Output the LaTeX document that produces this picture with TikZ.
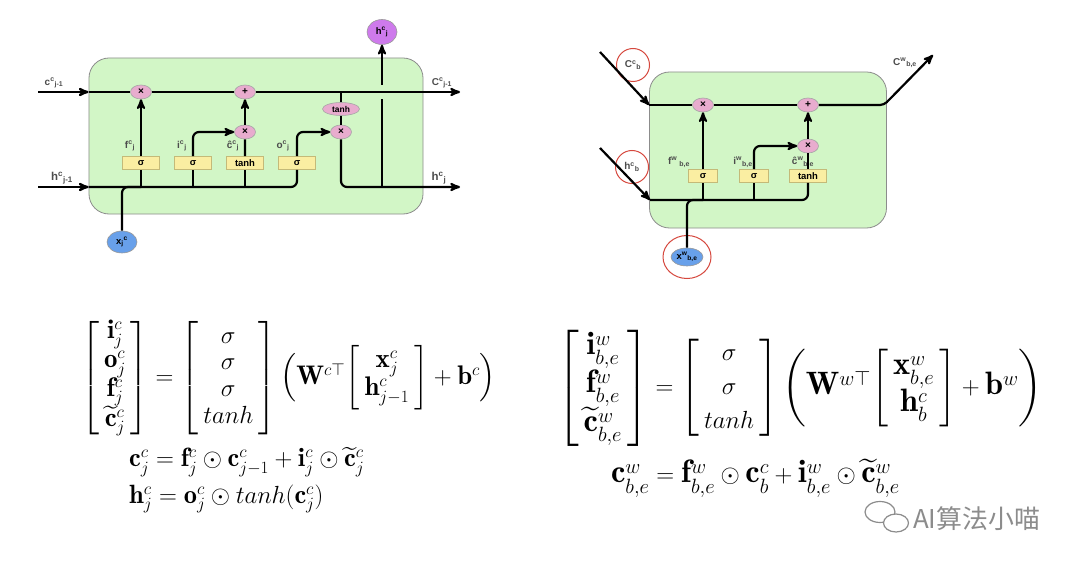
\documentclass[tikz,border=0pt]{standalone}
\usepackage{amsmath,amssymb}
\usepackage{fontspec}
\usepackage{xcolor}
\usepackage{tikz}
\usetikzlibrary{shapes,arrows,positioning,calc}
\newfontfamily\lblfont{Liberation Sans}
\newfontfamily\cjk{Noto Sans CJK SC}
\definecolor{cellgreen}{RGB}{210,246,198}
\definecolor{oppink}{RGB}{232,172,206}
\definecolor{gateyellow}{RGB}{250,238,162}
\definecolor{gateedge}{RGB}{196,186,120}
\definecolor{xblue}{RGB}{104,160,234}
\definecolor{hpurple}{RGB}{206,122,236}
\definecolor{ringred}{RGB}{214,72,62}
\newcommand{\glab}[3]{#1\textsuperscript{#2}\textsubscript{#3}}

\begin{document}
\begin{tikzpicture}[x=1bp,y=-1bp,>=stealth',line width=2.2bp,
  cell/.style={draw=black!45,fill=cellgreen,rounded corners=20bp,line width=0.8bp},
  op/.style={ellipse,draw=black!35,fill=oppink,line width=0.6bp,inner sep=0pt,minimum width=21bp,minimum height=14bp,font=\lblfont\bfseries\fontsize{10}{10}\selectfont},
  gatebox/.style={rectangle,draw=gateedge,fill=gateyellow,line width=0.6bp,inner sep=0pt,minimum width=37bp,minimum height=13bp,font=\lblfont\bfseries\fontsize{9.5}{9.5}\selectfont},
  io/.style={ellipse,draw=black!40,line width=0.6bp,inner sep=0pt,minimum width=30bp,minimum height=22bp,font=\lblfont\bfseries\fontsize{9.5}{9.5}\selectfont},
  lbl/.style={font=\lblfont\bfseries\fontsize{10}{11}\selectfont,text=black!70,inner sep=1bp},
  ring/.style={ellipse,draw=ringred,line width=1bp}]
\path[fill=white] (0,0) rectangle (1080,567);

% left cell
\node[cell,minimum width=334bp,minimum height=156bp] (lcell) at (256,136) {};
\coordinate (lcin) at (38,92);
\coordinate (lcout) at (460,92);
\coordinate (lhin) at (38,187);
\coordinate (lhout) at (460,187);
\node[op] (lfx) at (141,92) {×};
\node[op] (lad) at (245,92) {+};
\node[op] (lix) at (245,132) {×};
\node[op] (lox) at (341,132) {×};
\node[op,minimum width=37bp,minimum height=13bp,font=\lblfont\bfseries\fontsize{8.5}{8.5}\selectfont] (lth) at (341,109) {tanh};
\node[gatebox] (lfg) at (141,163) {σ};
\node[gatebox,right of=lfg,node distance=52bp] (lig) {σ};
\node[gatebox,right of=lig,node distance=52bp] (lcg) {tanh};
\node[gatebox,right of=lcg,node distance=52bp] (log) {σ};
\node[io,fill=xblue] (lx) at (122,242) {x\textsubscript{j}\textsuperscript{c}};
\node[io,fill=hpurple,minimum height=25bp] (lh) at (382,32) {\glab{h}{c}{j}};
\node[lbl] (lcinl) at (54,83) {\glab{c}{c}{j-1}};
\node[lbl] (lcoutl) at (442,83) {\glab{C}{c}{j-1}};
\node[lbl,font=\lblfont\bfseries\fontsize{11.5}{12}\selectfont] (lhinl) at (62,178) {\glab{h}{c}{j-1}};
\node[lbl,font=\lblfont\bfseries\fontsize{11.5}{12}\selectfont] (lhoutl) at (439,178) {\glab{h}{c}{j}};
\node[lbl,above=3bp of lfg,xshift=-11bp] (lfl) {\glab{f}{c}{j}};
\node[lbl,above=3bp of lig,xshift=-11bp] (lil) {\glab{i}{c}{j}};
\node[lbl,above=3bp of lcg,xshift=-12bp] (lcl) {\glab{ĉ}{c}{j}};
\node[lbl,above=3bp of log,xshift=-14bp] (lol) {\glab{o}{c}{j}};

\draw[->] (lcin) -- (lcell.west |- lcin);
\draw (lcell.west |- lcin) -- (lfx);
\draw (lfx) -- (lad);
\draw[->] (lad) -- (lcout);
\draw (lth |- lcin) -- (lth);
\draw (lth) -- (lox);
\draw[->,rounded corners=6bp] (lox) |- (lhout);
\draw (lh |- lhin) -- ($(lh |- lcin)+(0,7)$);
\draw[->] ($(lh |- lcin)+(0,-7)$) -- (lh);
\draw[->] (lhin) -- (lcell.west |- lhin);
\draw[rounded corners=6bp] (lcell.west |- lhin) -| (log);
\draw[->,rounded corners=6bp] (log) |- (lox);
\draw[rounded corners=6bp] (lx) |- (lfg |- lhin);
\draw (lfg |- lhin) -- (lfg);
\draw[->] (lfg) -- (lfx);
\draw (lig |- lhin) -- (lig);
\draw[->,rounded corners=6bp] (lig) |- (lix);
\draw (lcg |- lhin) -- (lcg);
\draw (lcg) -- (lix);
\draw[->] (lix) -- (lad);

% right cell
\node[cell,minimum width=237bp,minimum height=156bp] (rcell) at (768,150) {};
\coordinate (rcin) at (600,52);
\coordinate (rhin) at (600,148);
\coordinate (rhj) at (650,200);
\coordinate (rcbend) at (884,105);
\coordinate (rcout) at (933,55);
\node[op] (rfx) at (703,105) {×};
\node[op] (rad) at (808,105) {+};
\node[op] (rix) at (808,146) {×};
\node[gatebox,minimum width=29bp] (rfg) at (703,176) {σ};
\node[gatebox,minimum width=29bp,right of=rfg,node distance=51bp] (rig) {σ};
\node[gatebox] (rcg) at (808,176) {tanh};
\node[io,fill=xblue,minimum width=32bp,minimum height=18bp] (rx) at (687,257) {\glab{x}{w}{b,e}};
\node[ring,minimum width=48bp,minimum height=43bp] (rxr) at (rx) {};
\node[lbl,ring,minimum width=33bp,minimum height=33bp] (rcl) at (633,65) {\glab{C}{c}{b}};
\node[lbl,ring,minimum width=33bp,minimum height=33bp] (rhl) at (632,167) {\glab{h}{c}{b}};
\node[lbl] (rcoutl) at (905,63) {\glab{C}{w}{b,e}};
\node[lbl,above=0bp of rfg,xshift=-24bp] (rfl) {\glab{f}{w}{ b,e}};
\node[lbl,above=0bp of rig,xshift=-11bp] (ril) {\glab{i}{w}{b,e}};
\node[lbl,above=0bp of rcg,xshift=-5bp] (rcll) {\glab{ĉ}{w}{b,e}};

\draw[->] (rcin) -- (rcell.west |- rfx);
\draw (rcell.west |- rfx) -- (rfx);
\draw (rfx) -- (rad);
\draw[->,rounded corners=4bp] (rad) -- (rcbend) -- (rcout);
\draw[->] (rhin) -- (rhj);
\draw[rounded corners=6bp] (rhj) -| (rcg);
\draw[rounded corners=6bp] (rx) |- (rfg |- rhj);
\draw (rfg |- rhj) -- (rfg);
\draw[->] (rfg) -- (rfx);
\draw (rig |- rhj) -- (rig);
\draw[->,rounded corners=6bp] (rig) |- (rix);
\draw (rcg) -- (rix);
\draw[->] (rix) -- (rad);

% equations
\node[anchor=west,inner sep=0pt,font=\fontsize{27}{31}\selectfont] (leq1) at (80,378)
  {\renewcommand{\arraystretch}{0.87}$\left[\begin{array}{c}\mathbf{i}^c_j\\\mathbf{o}^c_j\\\mathbf{f}^c_j\\\widetilde{\mathbf{c}}^c_j\end{array}\right]=\left[\begin{array}{c}\sigma\\\sigma\\\sigma\\tanh\end{array}\right]\Big(\mathbf{W}^{c\top}{\renewcommand{\arraystretch}{0.8}\left[\begin{array}{c}\mathbf{x}^c_j\\\mathbf{h}^c_{j-1}\end{array}\right]}+\mathbf{b}^c\Big)$};
\node[anchor=west,inner sep=0pt,font=\fontsize{26.5}{31}\selectfont] (leq2) at (128,462)
  {$\mathbf{c}^c_j=\mathbf{f}^c_j\odot\mathbf{c}^c_{j-1}+\mathbf{i}^c_j\odot\widetilde{\mathbf{c}}^c_j$};
\node[anchor=west,inner sep=0pt,font=\fontsize{26.5}{31}\selectfont] (leq3) at (128,499)
  {$\mathbf{h}^c_j=\mathbf{o}^c_j\odot tanh(\mathbf{c}^c_j)$};
\node[anchor=west,inner sep=0pt,font=\fontsize{32.5}{37}\selectfont] (req1) at (556,388)
  {\renewcommand{\arraystretch}{0.92}$\left[\begin{array}{c}\mathbf{i}^w_{b,e}\\\mathbf{f}^w_{b,e}\\\widetilde{\mathbf{c}}^w_{b,e}\end{array}\right]=\left[\begin{array}{c}\sigma\\\sigma\\tanh\end{array}\right]\Bigg(\mathbf{W}^{w\top}{\renewcommand{\arraystretch}{0.76}\left[\begin{array}{c}\mathbf{x}^w_{b,e}\\\mathbf{h}^c_b\end{array}\right]}+\mathbf{b}^w\Bigg)$};
\node[anchor=west,inner sep=0pt,font=\fontsize{32.5}{37}\selectfont] (req2) at (610,478)
  {$\mathbf{c}^w_{b,e}=\mathbf{f}^w_{b,e}\odot\mathbf{c}^c_b+\mathbf{i}^w_{b,e}\odot\widetilde{\mathbf{c}}^w_{b,e}$};

% watermark
\draw[black!45,line width=1.2bp] (880,512) ellipse [x radius=15bp,y radius=10.5bp];
\draw[black!45,line width=1.2bp,fill=white] (896,523) ellipse [x radius=12.5bp,y radius=9bp];
\node[anchor=west,inner sep=0pt,text=black!45,font=\cjk\fontsize{26}{30}\selectfont] (wm) at (912,519) {AI算法小喵};
\end{tikzpicture}
\end{document}
